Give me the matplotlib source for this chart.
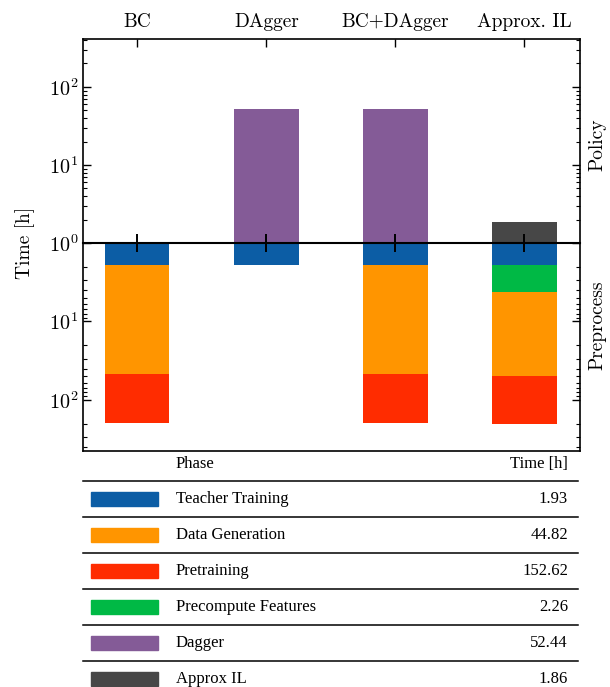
import matplotlib.pyplot as plt
import numpy as np
from matplotlib.ticker import LogLocator, FixedLocator, NullFormatter

plt.rcParams['font.family'] = 'serif'
plt.rcParams['font.serif'] = ['cmr10']
plt.rcParams['mathtext.fontset'] = 'cm'
plt.rcParams['axes.unicode_minus'] = False
plt.rcParams['axes.formatter.use_mathtext'] = True

methods = ["BC", "DAgger", "BC+DAgger", "Approx. IL"]
phases = ["Teacher Training", "Data Generation", "Pretraining",
          "Precompute Features", "Dagger", "Approx IL"]
hours = [1.93, 44.82, 152.62, 2.26, 52.44, 1.86]
colors = ["#0C5DA5", "#FF9500", "#FF2C00", "#00B945", "#845B97", "#474747"]

# which phases each method runs, in stacking order
preprocess_steps = [[0, 1, 2], [0], [0, 1, 2], [0, 3, 1, 2]]
policy_steps = [[], [4], [4], [5]]

W, H = 610, 687
fig = plt.figure(figsize=(W / 100, H / 100), dpi=100)

left, right = 83 / W, 580 / W
y_top, y_mid, y_bot = 1 - 39 / H, 1 - 243 / H, 1 - 451 / H
ax_top = fig.add_axes([left, y_mid, right - left, y_top - y_mid])
ax_bot = fig.add_axes([left, y_bot, right - left, y_mid - y_bot])
ax_top.set_zorder(3)
ax_top.patch.set_alpha(0)

x = np.arange(len(methods))
width = 0.5

# stacked from zero, the log axes start at 1 h
for i in x:
    base = 0.0
    for p in policy_steps[i]:
        ax_top.bar(i, hours[p], width, bottom=base, color=colors[p], zorder=2)
        base += hours[p]
    base = 0.0
    for p in preprocess_steps[i]:
        ax_bot.bar(i, hours[p], width, bottom=base, color=colors[p], zorder=2)
        base += hours[p]

for ax in (ax_top, ax_bot):
    ax.set_yscale('log')
    ax.set_xlim(-0.42, 3.43)
    ax.yaxis.set_minor_locator(LogLocator(base=10, subs=np.arange(2, 10)))
    ax.yaxis.set_minor_formatter(NullFormatter())
    ax.tick_params(axis='y', which='both', direction='in', left=True, right=True,
                   labelsize=14.5)
    ax.tick_params(axis='y', which='major', length=5.5, width=1)
    ax.tick_params(axis='y', which='minor', length=3, width=0.8)
    for s in ax.spines.values():
        s.set_linewidth(1.2)

ax_top.set_ylim(1, 412)
ax_bot.set_ylim(447, 1)
ax_bot.yaxis.set_major_locator(FixedLocator([10, 100]))

ax_top.spines['bottom'].set_visible(False)
ax_bot.spines['top'].set_visible(False)

ax_top.xaxis.tick_top()
ax_top.set_xticks(x)
ax_top.set_xticklabels(methods, fontsize=14)
ax_top.tick_params(axis='x', direction='in', length=5.5, width=1, pad=6)
ax_bot.set_xticks([])

ax_top.axhline(1, color='black', lw=1.5, zorder=3, clip_on=False)
ax_top.plot(x, np.ones(len(x)), ls='none', marker='|', markersize=13,
            markeredgewidth=1.4, color='black', zorder=4, clip_on=False)

fig.text(25 / W, y_mid, "Time [h]", rotation=90, ha='center', va='center',
         fontsize=14)
fig.text(597 / W, 1 - 145 / H, "Policy", rotation=90, ha='center',
         va='center', fontsize=14)
fig.text(597 / W, 1 - 325 / H, "Preprocess", rotation=90, ha='center',
         va='center', fontsize=14)

# phase table below the chart
tab = fig.add_axes([0, 0, 1, 1 - 455 / H])
tab.set_xlim(0, W)
tab.set_ylim(H, 455)
tab.axis('off')
tfont = dict(family='Liberation Serif', fontsize=12)

tab.text(176, 464, "Phase", va='center', ha='left', **tfont)
tab.text(568, 464, "Time [h]", va='center', ha='right', **tfont)
for i, (name, t, c) in enumerate(zip(phases, hours, colors)):
    yc = 499 + 36 * i
    tab.plot([83, 578], [yc - 18, yc - 18], color='black', lw=1.1)
    tab.add_patch(plt.Rectangle((91, yc - 7), 67, 14, color=c))
    tab.text(176, yc, name, va='center', ha='left', **tfont)
    tab.text(568, yc, f"{t:.2f}", va='center', ha='right', **tfont)

fig.savefig("out.png", dpi=100)
